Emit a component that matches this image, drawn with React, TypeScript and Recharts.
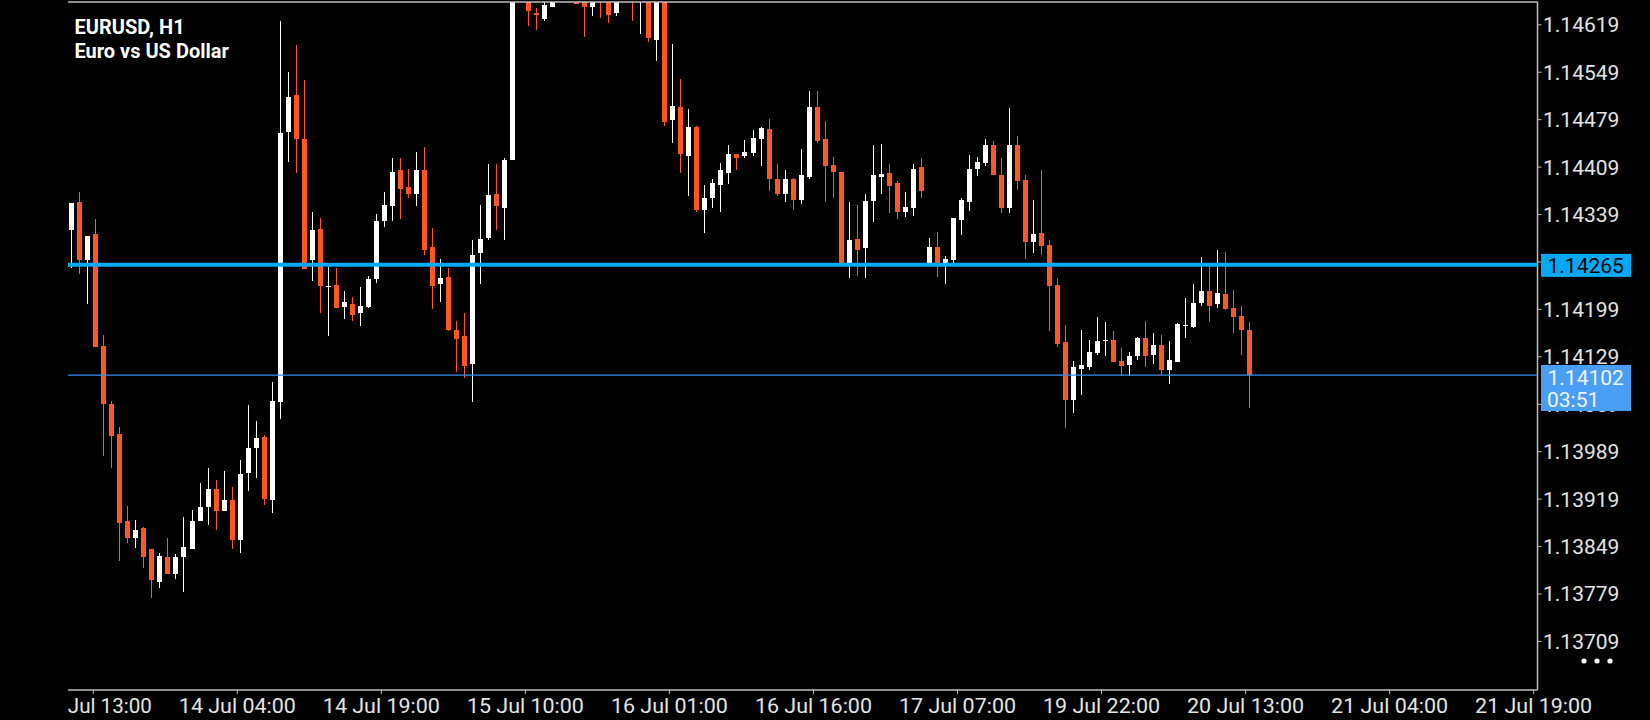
import React from 'react';
import { ComposedChart, Bar, XAxis, YAxis, ReferenceLine } from 'recharts';

// ---- EURUSD H1 candles (left to right) ----
const opens = [
  1.14316, 1.14357, 1.14272, 1.14310, 1.14145, 1.14060, 1.14015, 1.13886, 1.13861, 1.13877,
  1.13845, 1.13797, 1.13833, 1.13808, 1.13834, 1.13845, 1.13886, 1.13907, 1.13934, 1.13902,
  1.13918, 1.13859, 1.13957, 1.13995, 1.14010, 1.13917, 1.14062, 1.14461, 1.14516, 1.14450,
  1.14272, 1.14318, 1.14234, 1.14235, 1.14202, 1.14207, 1.14193, 1.14203, 1.14244, 1.14330,
  1.14352, 1.14404, 1.14380, 1.14369, 1.14404, 1.14291, 1.14236, 1.14247, 1.14169, 1.14159,
  1.14118, 1.14282, 1.14304, 1.14369, 1.14349, 1.14419, 1.14668, 1.14705, 1.14637, 1.14628,
  1.14646, 1.14680, 1.14672, 1.14652, 1.14655, 1.14646, 1.14675, 1.14660, 1.14636, 1.14660,
  1.14682, 1.14658, 1.14680, 1.14597, 1.14665, 1.14478, 1.14498, 1.14426, 1.14468, 1.14346,
  1.14364, 1.14382, 1.14400, 1.14429, 1.14426, 1.14430, 1.14451, 1.14465, 1.14391, 1.14370,
  1.14391, 1.14361, 1.14395, 1.14498, 1.14450, 1.14412, 1.14402, 1.14268, 1.14303, 1.14290,
  1.14359, 1.14395, 1.14400, 1.14386, 1.14343, 1.14349, 1.14409, 1.14266, 1.14291, 1.14264,
  1.14272, 1.14331, 1.14357, 1.14406, 1.14415, 1.14442, 1.14397, 1.14349, 1.14442, 1.14390,
  1.14299, 1.14312, 1.14294, 1.14235, 1.14151, 1.14065, 1.14111, 1.14114, 1.14135, 1.14153,
  1.14154, 1.14123, 1.14117, 1.14130, 1.14157, 1.14132, 1.14146, 1.14110, 1.14121, 1.14175,
  1.14173, 1.14208, 1.14226, 1.14207, 1.14222, 1.14201, 1.14189, 1.14169,
];
const highs = [
  1.14356, 1.14372, 1.14307, 1.14332, 1.14161, 1.14064, 1.14025, 1.13909, 1.13888, 1.13878,
  1.13846, 1.13839, 1.13861, 1.13838, 1.13893, 1.13903, 1.13943, 1.13965, 1.13947, 1.13960,
  1.13937, 1.13976, 1.14058, 1.14034, 1.14014, 1.14092, 1.14625, 1.14549, 1.14589, 1.14538,
  1.14343, 1.14334, 1.14262, 1.14260, 1.14226, 1.14218, 1.14232, 1.14248, 1.14340, 1.14372,
  1.14422, 1.14422, 1.14406, 1.14432, 1.14439, 1.14319, 1.14274, 1.14260, 1.14182, 1.14194,
  1.14301, 1.14353, 1.14414, 1.14414, 1.14422, 1.14690, 1.14720, 1.14712, 1.14644, 1.14662,
  1.14690, 1.14700, 1.14695, 1.14698, 1.14680, 1.14690, 1.14700, 1.14668, 1.14672, 1.14690,
  1.14695, 1.14690, 1.14690, 1.14680, 1.14672, 1.14591, 1.14539, 1.14495, 1.14470, 1.14383,
  1.14391, 1.14415, 1.14442, 1.14429, 1.14449, 1.14464, 1.14468, 1.14480, 1.14414, 1.14404,
  1.14393, 1.14435, 1.14521, 1.14521, 1.14477, 1.14424, 1.14402, 1.14357, 1.14353, 1.14369,
  1.14442, 1.14443, 1.14414, 1.14388, 1.14372, 1.14414, 1.14422, 1.14304, 1.14313, 1.14278,
  1.14334, 1.14363, 1.14427, 1.14424, 1.14450, 1.14447, 1.14422, 1.14496, 1.14455, 1.14397,
  1.14360, 1.14404, 1.14301, 1.14245, 1.14176, 1.14123, 1.14169, 1.14154, 1.14188, 1.14180,
  1.14167, 1.14142, 1.14136, 1.14158, 1.14182, 1.14164, 1.14161, 1.14152, 1.14179, 1.14216,
  1.14236, 1.14276, 1.14263, 1.14287, 1.14284, 1.14228, 1.14204, 1.14180,
];
const lows = [
  1.14260, 1.14251, 1.14207, 1.14144, 1.13982, 1.13965, 1.13828, 1.13854, 1.13847, 1.13817,
  1.13773, 1.13788, 1.13808, 1.13801, 1.13782, 1.13845, 1.13886, 1.13881, 1.13874, 1.13902,
  1.13845, 1.13840, 1.13931, 1.13950, 1.13910, 1.13899, 1.14037, 1.14416, 1.14401, 1.14258,
  1.14241, 1.14193, 1.14160, 1.14201, 1.14185, 1.14182, 1.14174, 1.14201, 1.14238, 1.14321,
  1.14330, 1.14333, 1.14364, 1.14351, 1.14279, 1.14199, 1.14210, 1.14167, 1.14107, 1.14098,
  1.14062, 1.14236, 1.14301, 1.14316, 1.14301, 1.14419, 1.14660, 1.14617, 1.14611, 1.14624,
  1.14646, 1.14662, 1.14660, 1.14650, 1.14601, 1.14632, 1.14629, 1.14622, 1.14632, 1.14655,
  1.14625, 1.14606, 1.14594, 1.14566, 1.14470, 1.14445, 1.14401, 1.14367, 1.14342, 1.14311,
  1.14349, 1.14342, 1.14384, 1.14404, 1.14422, 1.14426, 1.14411, 1.14374, 1.14367, 1.14358,
  1.14346, 1.14355, 1.14392, 1.14445, 1.14358, 1.14364, 1.14266, 1.14245, 1.14249, 1.14245,
  1.14328, 1.14369, 1.14341, 1.14332, 1.14335, 1.14337, 1.14364, 1.14263, 1.14247, 1.14237,
  1.14268, 1.14309, 1.14344, 1.14396, 1.14411, 1.14397, 1.14341, 1.14341, 1.14375, 1.14274,
  1.14282, 1.14279, 1.14167, 1.14144, 1.14024, 1.14046, 1.14073, 1.14110, 1.14131, 1.14130,
  1.14121, 1.14100, 1.14101, 1.14124, 1.14114, 1.14118, 1.14102, 1.14089, 1.14121, 1.14157,
  1.14172, 1.14204, 1.14180, 1.14201, 1.14198, 1.14164, 1.14132, 1.14053,
];
const closes = [
  1.14356, 1.14272, 1.14307, 1.14144, 1.14059, 1.14012, 1.13884, 1.13861, 1.13874, 1.13833,
  1.13800, 1.13835, 1.13808, 1.13833, 1.13849, 1.13887, 1.13907, 1.13934, 1.13902, 1.13918,
  1.13858, 1.13956, 1.13995, 1.14009, 1.13919, 1.14064, 1.14460, 1.14513, 1.14450, 1.14259,
  1.14316, 1.14233, 1.14234, 1.14201, 1.14210, 1.14191, 1.14204, 1.14244, 1.14329, 1.14353,
  1.14402, 1.14377, 1.14369, 1.14404, 1.14287, 1.14234, 1.14245, 1.14169, 1.14155, 1.14116,
  1.14279, 1.14303, 1.14368, 1.14352, 1.14419, 1.14668, 1.14705, 1.14639, 1.14634, 1.14648,
  1.14680, 1.14672, 1.14685, 1.14650, 1.14646, 1.14675, 1.14660, 1.14633, 1.14660, 1.14682,
  1.14658, 1.14680, 1.14599, 1.14665, 1.14475, 1.14499, 1.14428, 1.14468, 1.14346, 1.14363,
  1.14386, 1.14404, 1.14429, 1.14422, 1.14432, 1.14452, 1.14467, 1.14392, 1.14369, 1.14391,
  1.14360, 1.14397, 1.14498, 1.14447, 1.14411, 1.14402, 1.14268, 1.14301, 1.14287, 1.14359,
  1.14397, 1.14399, 1.14381, 1.14343, 1.14350, 1.14406, 1.14374, 1.14291, 1.14266, 1.14273,
  1.14334, 1.14360, 1.14406, 1.14416, 1.14442, 1.14397, 1.14349, 1.14442, 1.14388, 1.14299,
  1.14310, 1.14293, 1.14234, 1.14148, 1.14065, 1.14114, 1.14117, 1.14136, 1.14152, 1.14154,
  1.14121, 1.14115, 1.14130, 1.14157, 1.14130, 1.14146, 1.14110, 1.14124, 1.14177, 1.14176,
  1.14208, 1.14226, 1.14204, 1.14223, 1.14200, 1.14188, 1.14169, 1.14102,
];

// ---- axes ----
const timeLabels = [
  '13 Jul 13:00', '14 Jul 04:00', '14 Jul 19:00', '15 Jul 10:00', '16 Jul 01:00', '16 Jul 16:00',
  '17 Jul 07:00', '19 Jul 22:00', '20 Jul 13:00', '21 Jul 04:00', '21 Jul 19:00',
];
// tick positions in bar-index units
const timeTickPositions = [
  2.745, 20.717, 38.689, 56.661, 74.633, 92.605, 110.577, 128.549, 146.521, 164.493, 182.465,
];
const priceTicks = [
  1.14619, 1.14549, 1.14479, 1.14409, 1.14339, 1.14269, 1.14199, 1.14129, 1.14059,
  1.13989, 1.13919, 1.13849, 1.13779, 1.13709,
];
const priceDomain = [1.1363726, 1.1465265];
const indexDomain = [-0.412, 182.95];
const bidPrice = 1.14265;
const lastPrice = 1.14102;
const barTimer = '03:51';

const data = opens.map((o, i) => ({
  idx: i,
  open: o,
  high: highs[i],
  low: lows[i],
  close: closes[i],
  range: [lows[i], highs[i]],
}));

const W = 1650;
const H = 720;
const PLOT_LEFT = 68;
const MARGIN = { top: 2, right: 0.5, bottom: 0, left: PLOT_LEFT };
const BULL = '#ffffff';
const BEAR = '#ff5722';
const AXIS = '#bdbdbd';
const TEXT = '#e4e4e4';
const FONT = 'Roboto, "Noto Sans", sans-serif';

function Candle(props: any) {
  const { x, y, width, height, payload } = props;
  if (!payload || x == null || y == null) return null;
  const { open, close, high, low } = payload;
  const span = high - low;
  const ratio = span > 0 ? height / span : 0;
  const yOf = (v: number) => y + (high - v) * ratio;
  const bull = close >= open;
  const color = bull ? BULL : BEAR;
  const cx = Math.round(x + width / 2 - 0.5);
  const wickTop = Math.round(y);
  const wickBot = Math.round(y + height);
  const bTop = Math.round(yOf(Math.max(open, close)));
  const bBot = Math.round(yOf(Math.min(open, close)));
  return (
    <g>
      <rect x={cx} y={wickTop} width={1} height={Math.max(1, wickBot - wickTop)} fill={color} />
      <rect x={cx - 2} y={bTop} width={5} height={Math.max(1, bBot - bTop)} fill={color} />
    </g>
  );
}

function TimeTick(props: any) {
  const { x, y, payload, index } = props;
  let i = timeTickPositions.indexOf(payload?.value);
  if (i < 0) i = index;
  const label = timeLabels[i] ?? '';
  const full = 117;
  if (x - full / 2 < PLOT_LEFT) {
    const short = label.split(' ').slice(1).join(' ');
    return (
      <text x={x + full / 2} y={y} dy={17} textAnchor="end" fill={TEXT}
        fontFamily={FONT} fontSize={21} textLength={84} lengthAdjust="spacingAndGlyphs">
        {short}
      </text>
    );
  }
  return (
    <text x={x} y={y} dy={17} textAnchor="middle" fill={TEXT}
      fontFamily={FONT} fontSize={21} textLength={full} lengthAdjust="spacingAndGlyphs">
      {label}
    </text>
  );
}

function PriceTickLabel(props: any) {
  const { x, y, payload } = props;
  return (
    <text x={x} y={y} dy={7.5} textAnchor="start" fill={TEXT} fontFamily={FONT} fontSize={21}>
      {Number(payload.value).toFixed(5)}
    </text>
  );
}

function PriceTag(props: any) {
  const { viewBox, text, sub, bg, fg } = props;
  if (!viewBox) return null;
  const left = viewBox.x + viewBox.width + 3.5;
  const cy = viewBox.y;
  const top = sub ? cy - 10.1 : cy - 10.8;
  const h = sub ? 46 : 23;
  return (
    <g>
      <rect x={left} y={top} width={90} height={h} fill={bg} />
      <text x={left + 6.5} y={sub ? cy + 9.8 : cy + 8.2} fill={fg} fontFamily={FONT} fontSize={21}>
        {text}
      </text>
      {sub ? (
        <text x={left + 6} y={cy + 31.8} fill={fg} fontFamily={FONT} fontSize={21}>
          {sub}
        </text>
      ) : null}
    </g>
  );
}

export default function App() {
  return (
    <div style={{ position: 'absolute', left: 0, top: 0, width: W, height: H, background: '#000', overflow: 'hidden' }}>
      {/* candles and axes */}
      <div style={{ position: 'absolute', left: 0, top: 0 }}>
        <ComposedChart width={W} height={H} data={data} margin={MARGIN}>
          <XAxis
            dataKey="idx"
            type="number"
            domain={indexDomain}
            allowDataOverflow
            ticks={timeTickPositions}
            interval={0}
            height={30}
            tickSize={4}
            tickMargin={2}
            axisLine={{ stroke: AXIS, strokeWidth: 1.5 }}
            tickLine={{ stroke: AXIS }}
            tick={<TimeTick />}
          />
          <YAxis
            orientation="right"
            type="number"
            domain={priceDomain}
            allowDataOverflow
            ticks={priceTicks}
            interval={0}
            width={112}
            tickSize={4}
            tickMargin={1.5}
            axisLine={{ stroke: AXIS, strokeWidth: 1.5 }}
            tickLine={{ stroke: AXIS }}
            tick={<PriceTickLabel />}
          />
          <Bar dataKey="range" barSize={5} isAnimationActive={false} shape={<Candle />} />
          <ReferenceLine y={priceDomain[1]} stroke={AXIS} strokeWidth={1.5} ifOverflow="visible" />
        </ComposedChart>
      </div>
      {/* price lines and their tags, drawn above the axis labels */}
      <div style={{ position: 'absolute', left: 0, top: 0 }}>
        <ComposedChart width={W} height={H} data={data} margin={MARGIN}>
          <XAxis
            dataKey="idx"
            type="number"
            domain={indexDomain}
            allowDataOverflow
            height={30}
            tick={false}
            tickLine={false}
            axisLine={false}
          />
          <YAxis
            orientation="right"
            type="number"
            domain={priceDomain}
            allowDataOverflow
            width={112}
            tick={false}
            tickLine={false}
            axisLine={false}
          />
          <ReferenceLine
            y={lastPrice}
            stroke="#3590f2"
            strokeWidth={1.2}
            ifOverflow="visible"
            label={<PriceTag text={lastPrice.toFixed(5)} sub={barTimer} bg="#4a9ef5" fg="#eef4ff" />}
          />
          <ReferenceLine
            y={bidPrice}
            stroke="#03a9f4"
            strokeWidth={4}
            ifOverflow="visible"
            label={<PriceTag text={bidPrice.toFixed(5)} bg="#03a9f4" fg="#000000" />}
          />
        </ComposedChart>
      </div>
      <div
        style={{
          position: 'absolute',
          left: 74.5,
          top: 14.5,
          color: '#ffffff',
          fontFamily: FONT,
          fontWeight: 700,
          fontSize: 20,
          lineHeight: '24px',
          whiteSpace: 'nowrap',
        }}
      >
        <div>EURUSD, H1</div>
        <div>Euro vs US Dollar</div>
      </div>
      <svg style={{ position: 'absolute', left: 0, top: 0 }} width={W} height={H} pointerEvents="none">
        <circle cx={1584} cy={661} r={2.6} fill="#ffffff" />
        <circle cx={1597} cy={661} r={2.6} fill="#ffffff" />
        <circle cx={1610} cy={661} r={2.6} fill="#ffffff" />
      </svg>
    </div>
  );
}
